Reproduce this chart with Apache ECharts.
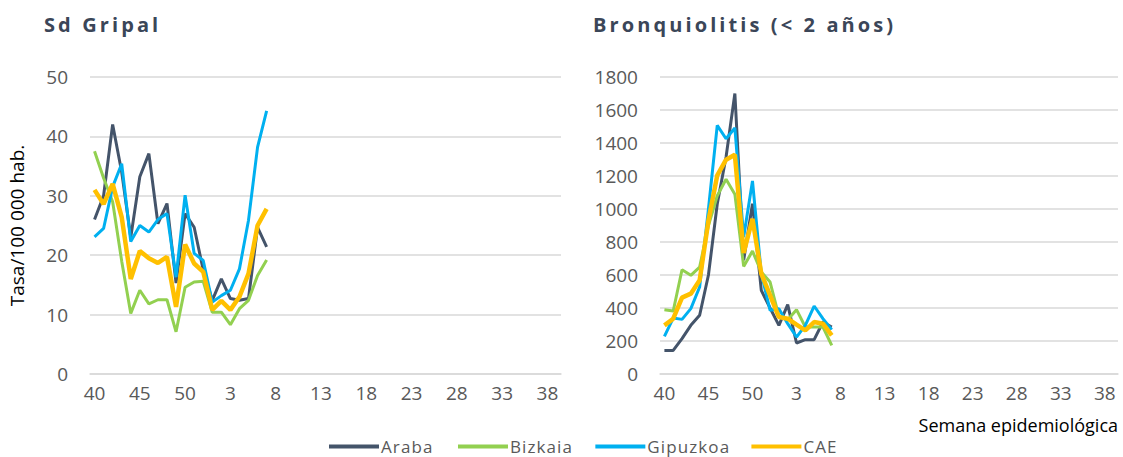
<!DOCTYPE html>
<html>
<head>
<meta charset="utf-8">
<script src="https://cdn.jsdelivr.net/npm/echarts@6/dist/echarts.min.js"></script>
<style>
html,body{margin:0;padding:0;background:#fff;}
#main{width:1123px;height:457px;}
/* titulos y leyenda con espaciado entre letras */
#main svg text[style*="bold"]{letter-spacing:3.1px;}
#main svg text[style*="17px"]{letter-spacing:1.1px;}
</style>
</head>
<body>
<div id="main"></div>
<script>
// semanas epidemiologicas 40..52, 1..39
var weeks = [];
for (var w = 40; w <= 52; w++) weeks.push(String(w));
for (var w2 = 1; w2 <= 39; w2++) weeks.push(String(w2));

// Sd Gripal (tasa/100 000)
var gripAraba    = [26, 30, 42, 34, 23, 33.2, 37.1, 25.3, 28.7, 15.3, 27, 24.7, 17.5, 12.4, 16, 12.7, 12.4, 12.7, 24.7, 21.4];
var gripBizkaia  = [37.5, 33, 29, 19, 10.2, 14.1, 11.8, 12.5, 12.5, 7.1, 14.6, 15.5, 15.6, 10.4, 10.4, 8.3, 11, 12.4, 16.6, 19.2];
var gripGipuzkoa = [23.1, 24.5, 31.5, 35.4, 22.3, 25, 23.9, 26, 27, 16.3, 30.1, 20.3, 19.1, 12.1, 13.2, 14.1, 17.7, 25.9, 38.2, 44.3];
var gripCAE      = [31, 28.6, 32, 26.4, 16, 20.7, 19.5, 18.7, 19.7, 11.3, 21.8, 18.6, 17.2, 10.8, 12.3, 10.8, 13, 16.9, 25, 27.8];

// Bronquiolitis (< 2 años)
var bronAraba    = [143, 143, 214, 295, 356, 600, 1030, 1315, 1700, 690, 1032, 507, 400, 295, 420, 188, 208, 208, 315, 285];
var bronBizkaia  = [390, 382, 632, 598, 648, 900, 1080, 1180, 1090, 652, 745, 618, 557, 350, 329, 390, 285, 285, 285, 174];
var bronGipuzkoa = [228, 339, 331, 396, 527, 1000, 1507, 1426, 1491, 830, 1170, 608, 386, 396, 305, 224, 295, 412, 335, 269];
var bronCAE      = [295, 335, 463, 487, 568, 930, 1204, 1299, 1329, 733, 941, 608, 477, 345, 335, 299, 265, 315, 305, 234];

var colors = {Araba: '#44546a', Bizkaia: '#92d050', Gipuzkoa: '#00b0f0', CAE: '#ffc000'};
var names = ['Araba', 'Bizkaia', 'Gipuzkoa', 'CAE'];

var myChart = echarts.init(document.getElementById('main'), null, {renderer: 'svg'});

function mkSeries(name, data, idx) {
    return {
        name: name,
        type: 'line',
        xAxisIndex: idx,
        yAxisIndex: idx,
        data: data,
        symbol: 'none',
        z: name === 'CAE' ? 5 : 3,
        lineStyle: {color: colors[name], width: name === 'CAE' ? 4.5 : 3},
        itemStyle: {color: colors[name]}
    };
}

var xAx = function (idx) {
    return {
        type: 'category',
        gridIndex: idx,
        data: weeks,
        boundaryGap: true,
        axisLine: {lineStyle: {color: '#d9d9d9', width: 1.5}},
        axisTick: {show: false},
        axisLabel: {interval: 4, color: '#595959', fontSize: 19, fontFamily: 'Open Sans', margin: 9}
    };
};
var yAx = function (idx, max, interval) {
    return {
        type: 'value',
        gridIndex: idx,
        min: 0,
        max: max,
        interval: interval,
        axisLine: {show: false},
        axisTick: {show: false},
        splitLine: {lineStyle: {color: '#d9d9d9', width: 1.5}},
        axisLabel: {color: '#595959', fontSize: 19, fontFamily: 'Open Sans', margin: 22,
                    formatter: function (v) { return String(v); }}
    };
};

var option = {
    animation: false,
    color: names.map(function (n) { return colors[n]; }),
    title: [
        {text: 'Sd Gripal', left: 39, top: 9,
         textStyle: {fontSize: 20, fontWeight: 'bold', color: '#3b4658', fontFamily: 'Open Sans'}},
        {text: 'Bronquiolitis (< 2 años)', left: 588, top: 9,
         textStyle: {fontSize: 20, fontWeight: 'bold', color: '#3b4658', fontFamily: 'Open Sans'}}
    ],
    grid: [
        {left: 90, top: 77, width: 471, height: 297},
        {left: 660, top: 77, width: 458, height: 297}
    ],
    xAxis: [xAx(0), xAx(1)],
    yAxis: [
        (function () {
            var a = yAx(0, 50, 10);
            a.name = 'Tasa/100 000 hab.';
            a.nameLocation = 'middle';
            a.nameGap = 64;
            a.nameTextStyle = {color: '#000', fontSize: 19, fontFamily: 'Open Sans'};
            return a;
        })(),
        yAx(1, 1800, 200)
    ],
    legend: {
        data: names,
        bottom: -3,
        left: 324,
        icon: 'rect',
        itemWidth: 50,
        itemHeight: 4,
        itemGap: 30,
        textStyle: {color: '#595959', fontSize: 17, fontFamily: 'Open Sans', padding: [0, 0, 0, -3]}
    },
    graphic: [{
        type: 'text',
        right: 5,
        top: 416,
        style: {text: 'Semana epidemiológica', fill: '#000', font: '18px "Open Sans"'}
    }],
    series: [
        mkSeries('Araba', gripAraba, 0),
        mkSeries('Bizkaia', gripBizkaia, 0),
        mkSeries('Gipuzkoa', gripGipuzkoa, 0),
        mkSeries('CAE', gripCAE, 0),
        mkSeries('Araba', bronAraba, 1),
        mkSeries('Bizkaia', bronBizkaia, 1),
        mkSeries('Gipuzkoa', bronGipuzkoa, 1),
        mkSeries('CAE', bronCAE, 1)
    ]
};

myChart.setOption(option);
</script>
</body>
</html>
